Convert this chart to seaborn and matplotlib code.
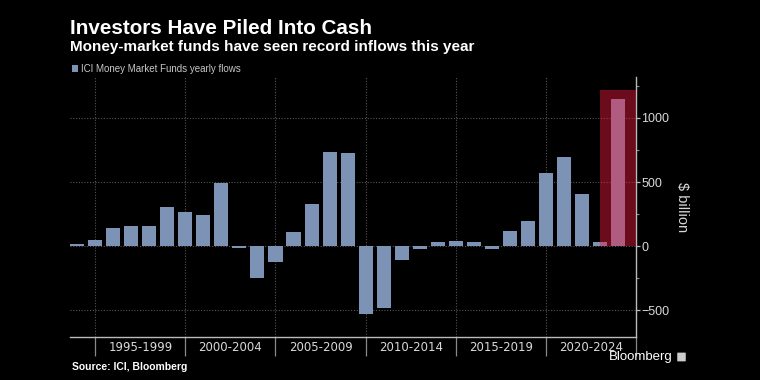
import numpy as np
import pandas as pd
import matplotlib
matplotlib.use('Agg')
import matplotlib.pyplot as plt
import seaborn as sns
from matplotlib.patches import Patch, Rectangle, FancyBboxPatch
from matplotlib.ticker import FixedLocator, MultipleLocator

# bars are placed at the year tick they sit on in the reference
years = list(range(1994, 2025))
flows = [13, 44, 138, 156, 156, 304, 263, 239, 489, -16,
         -247, -128, 107, 328, 731, 723, -533, -484, -112, -23,
         31, 42, 31, -23, 117, 192, 567, 692, 406, 31,
         1152]
period_ticks = [1995, 2000, 2005, 2010, 2015, 2020, 2025]
period_labels = ['1995-1999', '2000-2004', '2005-2009', '2010-2014', '2015-2019', '2020-2024']
highlight_start, highlight_end, highlight_top = 2023, 2025, 1215

df = pd.DataFrame({'year': years, 'flow': flows})

sns.set_style('dark', rc={'axes.facecolor': 'black', 'figure.facecolor': 'black'})
plt.rcParams['font.family'] = ['Liberation Sans', 'DejaVu Sans']

bar_color = '#7d93b6'
grid_color = '#555555'
text_color = '#d9d9d9'

fig = plt.figure(figsize=(7.6, 3.8), dpi=100)
ax = fig.add_axes([70/760, 1-337/380, 566/760, 260/380])

sns.barplot(data=df, x='year', y='flow', native_scale=True, width=0.78,
            color=bar_color, saturation=1, linewidth=0, ax=ax, zorder=2)

# record-year highlight
ax.add_patch(Rectangle((highlight_start, 0), highlight_end - highlight_start, highlight_top,
                       facecolor='#f0193f', alpha=0.45, linewidth=0, zorder=3))

ax.set_xlim(1993.6, 2025)
ax.set_ylim(-710, 1320)

# grid
for y in [-500, 0, 500, 1000]:
    ax.axhline(y, color=grid_color, linestyle=(0, (1, 1.5)), linewidth=0.8, zorder=1)
for x in period_ticks[:-1]:
    ax.axvline(x, color=grid_color, linestyle=(0, (1, 1.5)), linewidth=0.8, zorder=1)

for s in ['left', 'top']:
    ax.spines[s].set_visible(False)
for s in ['right', 'bottom']:
    ax.spines[s].set_visible(True)
    ax.spines[s].set_color('#bbbbbb')
    ax.spines[s].set_linewidth(1)

# x axis: long period ticks, labels centred in each period
ax.xaxis.set_major_locator(FixedLocator(period_ticks))
ax.xaxis.set_minor_locator(FixedLocator([t + 2.5 for t in period_ticks[:-1]]))
ax.set_xticklabels([''] * len(period_ticks))
ax.set_xticklabels(period_labels, minor=True)
ax.tick_params(axis='x', which='major', length=14, width=0.9, color='#888888', direction='out', bottom=True)
ax.tick_params(axis='x', which='minor', length=0, pad=3, labelsize=8.5, labelcolor=text_color, bottom=True)
for lbl in ax.get_xticklabels(minor=True):
    lbl.set_family(['Liberation Sans Narrow', 'DejaVu Sans'])

# y axis on the right
ax.yaxis.tick_right()
ax.yaxis.set_label_position('right')
ax.yaxis.set_major_locator(FixedLocator([-500, 0, 500, 1000]))
ax.yaxis.set_minor_locator(MultipleLocator(250))
ax.tick_params(axis='y', which='major', length=3, width=0.9, color='#bbbbbb', pad=1,
               labelsize=9, labelcolor=text_color, right=True, left=False)
ax.tick_params(axis='y', which='minor', length=2.5, width=0.8, color='#888888', right=True, left=False)
ax.set_ylabel('$ billion', rotation=270, color=text_color, fontsize=10.5, labelpad=14)
ax.set_xlabel('')

# titles and notes
fig.text(70/760, 1-28/380, 'Investors Have Piled Into Cash', color='white',
         fontsize=14.9, fontweight='bold', va='center', ha='left')
fig.text(70/760, 1-47/380, 'Money-market funds have seen record inflows this year', color='white',
         fontsize=11, fontweight='bold', va='center', ha='left')
fig.legend(handles=[Patch(facecolor=bar_color, edgecolor='none', label='ICI Money Market Funds yearly flows')],
           loc='center left', bbox_to_anchor=(72/760, 1-69/380), frameon=False,
           handlelength=0.6, handleheight=0.6, handletextpad=0.3, borderpad=0, borderaxespad=0,
           fontsize=7, labelcolor='#c8c8c8')
fig.text(72/760, 1-367/380, 'Source: ICI, Bloomberg', color='white',
         fontsize=7.5, fontweight='bold', va='center', ha='left')
fig.text(673/760, 1-357/380, 'Bloomberg', color='white',
         fontsize=9.5, va='center', ha='right')
fig.patches.append(FancyBboxPatch((678/760, 1-361/380), 7/760, 8/380,
                                  boxstyle='round,pad=0.001', facecolor='#cccccc',
                                  edgecolor='none', transform=fig.transFigure, figure=fig))

fig.savefig('out.png', dpi=100, facecolor='black')
